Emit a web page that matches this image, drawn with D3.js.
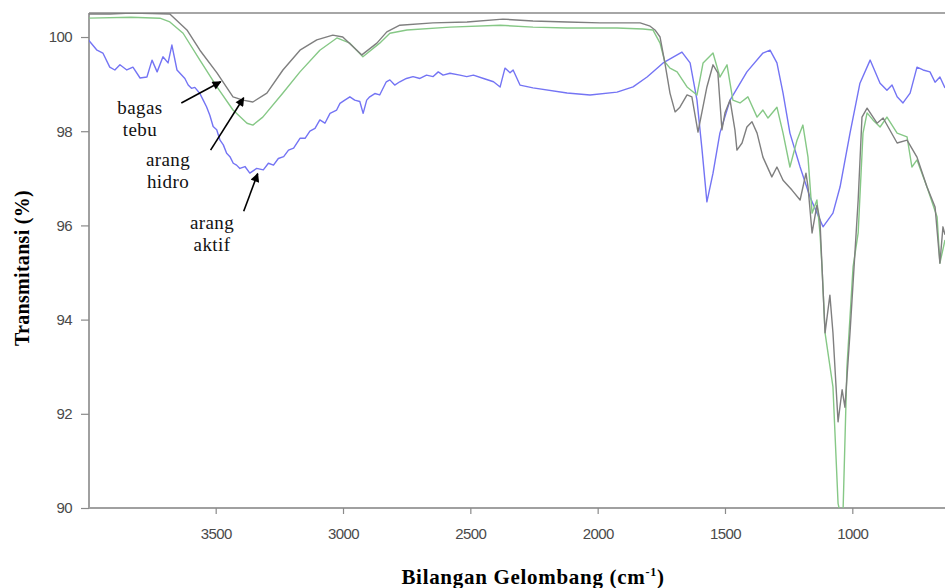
<!DOCTYPE html>
<html><head><meta charset="utf-8">
<script src="https://cdn.jsdelivr.net/npm/d3@7"></script>
<style>body{margin:0;background:#fff}svg{display:block}</style>
</head><body>
<script>
// ---- data ----
const yTicks = [90, 92, 94, 96, 98, 100];
const xTicks = [3500, 3000, 2500, 2000, 1500, 1000];

const wnBagas = [4000,3916,3833,3750,3680,3613,3562,3495,3432,3393,3354,3299,3236,3169,3103,3040,3001,2926,2867,2828,2777,2647,2513,2372,2254,2120,1991,1861,1833,1794,1775,1755,1736,1716,1696,1677,1649,1630,1606,1571,1547,1528,1512,1500,1480,1461,1453,1433,1414,1394,1374,1351,1316,1296,1272,1237,1205,1182,1174,1158,1139,1127,1119,1107,1088,1076,1056,1040,1029,1009,989,977,962,942,903,879,824,785,746,707,675,656,644,636];
const tBagas  = [100.49,100.49,100.51,100.50,100.49,100.15,99.72,99.24,98.73,98.66,98.62,98.81,99.30,99.72,99.94,100.04,100.0,99.62,99.87,100.11,100.25,100.30,100.32,100.38,100.34,100.32,100.30,100.30,100.30,100.23,100.15,100.0,99.45,98.81,98.41,98.51,98.77,98.73,97.98,98.94,99.41,99.24,98.03,98.39,98.66,98.03,97.60,97.75,98.09,98.20,97.96,97.45,97.03,97.24,96.96,96.75,96.54,97.11,96.82,95.84,96.43,96.11,95.12,93.72,94.52,93.72,91.83,92.51,92.14,93.72,95.48,96.54,98.30,98.49,98.17,98.28,97.75,97.81,97.45,96.82,96.39,95.20,95.97,95.80];

const wnHidro = [4000,3833,3719,3680,3628,3562,3495,3432,3377,3354,3315,3236,3169,3091,3024,2973,2922,2856,2816,2749,2580,2383,2254,2120,1924,1822,1783,1755,1736,1716,1688,1649,1610,1586,1547,1520,1492,1469,1441,1410,1374,1351,1331,1296,1272,1245,1217,1194,1174,1158,1139,1127,1119,1107,1076,1056,1044,1036,1021,997,977,958,942,919,891,864,824,785,766,746,707,667,656,636];
const tHidro  = [100.40,100.42,100.40,100.32,100.08,99.51,98.94,98.45,98.17,98.13,98.30,98.81,99.26,99.72,99.98,99.87,99.58,99.87,100.08,100.15,100.21,100.25,100.21,100.19,100.19,100.17,100.15,99.87,99.47,99.34,99.26,98.94,98.77,99.45,99.66,99.15,99.41,98.66,98.60,98.73,98.30,98.45,98.28,98.51,97.96,97.24,97.81,98.13,97.45,96.26,96.54,95.84,95.12,93.72,92.57,90.10,89.80,90.00,93.00,95.12,95.84,97.96,98.39,98.24,98.09,98.30,97.96,97.88,97.24,97.39,96.82,96.18,95.20,95.69];

const wnAktif = [4000,3966,3943,3916,3896,3876,3849,3825,3797,3770,3750,3730,3707,3687,3672,3652,3621,3608,3595,3582,3562,3549,3536,3523,3510,3496,3483,3470,3457,3444,3431,3418,3405,3385,3366,3339,3313,3293,3273,3254,3233,3214,3194,3169,3149,3130,3110,3091,3071,3051,3025,3012,2993,2973,2954,2934,2921,2907,2895,2875,2856,2830,2816,2797,2777,2751,2725,2698,2672,2646,2626,2607,2580,2541,2514,2488,2448,2409,2383,2364,2344,2332,2305,2254,2120,2030,1924,1861,1806,1743,1669,1637,1610,1590,1571,1547,1520,1480,1414,1351,1323,1296,1272,1245,1205,1166,1115,1076,1048,1009,970,930,891,864,844,824,801,773,746,722,695,675,656,636];
const tAktif  = [99.94,99.72,99.66,99.36,99.30,99.41,99.30,99.36,99.13,99.15,99.51,99.26,99.58,99.45,99.83,99.30,99.12,98.98,98.91,98.93,98.80,98.66,98.52,98.34,98.10,98.03,97.81,97.71,97.53,97.46,97.32,97.28,97.21,97.25,97.11,97.21,97.18,97.32,97.28,97.42,97.46,97.60,97.64,97.85,97.85,98.00,98.06,98.24,98.17,98.38,98.45,98.59,98.66,98.73,98.66,98.63,98.38,98.66,98.73,98.80,98.77,99.05,99.09,98.98,99.05,99.12,99.16,99.12,99.19,99.16,99.26,99.19,99.23,99.19,99.16,99.19,99.12,99.05,98.94,99.34,99.24,99.30,98.98,98.92,98.81,98.77,98.83,98.94,99.15,99.45,99.68,99.45,98.66,97.60,96.50,97.11,97.96,98.66,99.26,99.66,99.72,99.45,98.81,97.96,97.24,96.60,95.97,96.26,96.82,97.96,99.02,99.51,99.02,98.87,98.98,98.73,98.60,98.81,99.36,99.30,99.26,99.04,99.15,98.92];

const seriesNames = ["bagas tebu", "arang hidro", "arang aktif"];
const seriesColors = ["#7f7f7f", "#86c886", "#7474f4"];

// ---- layout ----
const W = 945, H = 588;
const L = 89, R = 945, T = 13, B = 508;

const svg = d3.select("body").append("svg").attr("width", W).attr("height", H);

const x = d3.scaleLinear().domain([3997.5, 636]).range([L, R]);
const y = d3.scaleLinear().domain([90, 100.51]).range([B, T]);

const defs = svg.append("defs");
defs.append("clipPath").attr("id", "clip")
  .append("rect").attr("x", L).attr("y", T).attr("width", R - L).attr("height", B - T);
defs.append("marker").attr("id", "arr").attr("viewBox", "0 0 10 10")
  .attr("refX", 9).attr("refY", 5).attr("markerWidth", 10).attr("markerHeight", 9)
  .attr("markerUnits", "userSpaceOnUse").attr("orient", "auto")
  .append("path").attr("d", "M0,0 L10,5 L0,10 z").attr("fill", "#000");

// frame top
svg.append("line").attr("x1", L).attr("x2", R).attr("y1", T).attr("y2", T)
  .attr("stroke", "#a6a6a6").attr("stroke-width", 2);

// axes
const yAxis = d3.axisLeft(y).tickValues(yTicks).tickSize(8).tickPadding(9).tickFormat(d3.format("d"));
const xAxis = d3.axisBottom(x).tickValues(xTicks).tickSize(6).tickPadding(14).tickFormat(d3.format("d"));

const gy = svg.append("g").attr("transform", `translate(${L},0)`).call(yAxis);
const gx = svg.append("g").attr("transform", `translate(0,${B})`).call(xAxis);
[gx, gy].forEach(g => {
  g.select(".domain").attr("stroke", "#a0a0a0").attr("stroke-width", 2);
  g.selectAll(".tick line").attr("stroke", "#8a8a8a").attr("stroke-width", 1.2);
  g.selectAll(".tick text").attr("fill", "#4a4a4a")
    .style("font-family", "'Liberation Sans', Arial, sans-serif").style("font-size", "15px")
    .style("letter-spacing", "-0.6px");
});
gy.select(".domain").attr("d", `M0,${T}V${B}`);
gx.select(".domain").attr("d", `M${L},0H${R}`);

// lines
const plot = svg.append("g").attr("clip-path", "url(#clip)");
const line = d3.line().x(d => x(d[0])).y(d => y(d[1]));
const data = [
  d3.zip(wnBagas, tBagas),
  d3.zip(wnHidro, tHidro),
  d3.zip(wnAktif, tAktif)
];
[2, 1, 0].forEach(i => {
  plot.append("path").datum(data[i]).attr("d", line)
    .attr("fill", "none").attr("stroke", seriesColors[i]).attr("stroke-width", 1.4)
    .attr("stroke-linejoin", "round");
});

// axis titles
svg.append("text").attr("x", 533).attr("y", 584).attr("text-anchor", "middle")
  .style("font-family", "'Liberation Serif', 'Times New Roman', serif").style("font-weight", "bold")
  .style("font-size", "21px").style("letter-spacing", "0.7px").attr("fill", "#000")
  .html('Bilangan Gelombang (cm<tspan dy="-8" font-size="12px">-1</tspan><tspan dy="8">)</tspan>');

svg.append("text").attr("transform", "translate(29,268) rotate(-90)").attr("text-anchor", "middle")
  .style("font-family", "'Liberation Serif', 'Times New Roman', serif").style("font-weight", "bold")
  .style("font-size", "20px").style("letter-spacing", "0.3px").attr("fill", "#000").text("Transmitansi (%)");

// annotations
const ann = [
  {lines: ["bagas", "tebu"], tx: 140, ty: 114, from: [x(3635), y(98.6)], to: [x(3480), y(99.05)]},
  {lines: ["arang", "hidro"], tx: 168, ty: 166, from: [x(3520), y(97.6)], to: [x(3390), y(98.71)]},
  {lines: ["arang", "aktif"], tx: 212, ty: 229, from: [x(3390), y(96.3)], to: [x(3335), y(97.1)]}
];
ann.forEach(a => {
  const t = svg.append("text").attr("text-anchor", "middle")
    .style("font-family", "'Liberation Serif', 'Times New Roman', serif")
    .style("font-size", "19px").style("letter-spacing", "0.4px").attr("fill", "#111");
  a.lines.forEach((s, k) => t.append("tspan").attr("x", a.tx).attr("y", a.ty + k * 22).text(s));
  svg.append("line").attr("x1", a.from[0]).attr("y1", a.from[1]).attr("x2", a.to[0]).attr("y2", a.to[1])
    .attr("stroke", "#000").attr("stroke-width", 1.6).attr("marker-end", "url(#arr)");
});
</script>
</body></html>
